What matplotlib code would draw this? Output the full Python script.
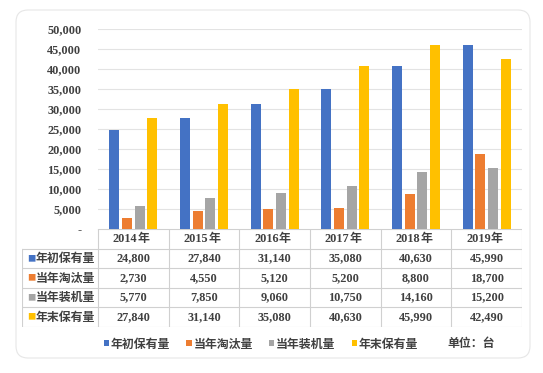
import numpy as np, matplotlib; matplotlib.use("Agg")
import matplotlib.pyplot as plt
from matplotlib.patches import FancyBboxPatch, Patch

years = ['2014', '2015', '2016', '2017', '2018', '2019']
series = ['年初保有量', '当年淘汰量', '当年装机量', '年末保有量']
begin_stock = [24800, 27840, 31140, 35080, 40630, 45990]
retired = [2730, 4550, 5120, 5200, 8800, 18700]
installed = [5770, 7850, 9060, 10750, 14160, 15200]
end_stock = [27840, 31140, 35080, 40630, 45990, 42490]
yticks = [0, 5000, 10000, 15000, 20000, 25000, 30000, 35000, 40000, 45000, 50000]
unit_note = '单位：台'

colors = ['#4472C4', '#ED7D31', '#A5A5A5', '#FFC000']
vals = [begin_stock, retired, installed, end_stock]
CJK = ['Noto Sans CJK SC', 'DejaVu Sans']
NUM = 'Liberation Serif'
TXT = '#404040'
W, H = 543, 373

fig = plt.figure(figsize=(W/100, H/100), dpi=100)
fig.patch.set_facecolor('white')
fig.patches.append(FancyBboxPatch((16, H-358), 514, 348, boxstyle='round,pad=0,rounding_size=12',
                                  transform=None, fc='none', ec='#E6E6E6', lw=0.8, zorder=-5))

def fx(px): return px/W
def fy(py): return 1-py/H

# bars
ax = fig.add_axes([fx(98), fy(229), fx(424), 200/H])
ax.patch.set_alpha(0)
x = np.arange(len(years))
offs = [-0.27, -0.09, 0.09, 0.27]
for v, c, o in zip(vals, colors, offs):
    ax.bar(x+o, v, width=0.14, color=c, zorder=3)
ax.set_xlim(-0.5, 5.5); ax.set_ylim(0, 50000)
ax.set_yticks(yticks)
ax.set_yticklabels(['-' if t == 0 else f"{t:,}" for t in yticks], fontfamily=NUM, fontweight='bold', fontsize=8.8, color=TXT)
ax.set_xticks([])
ax.tick_params(axis='y', length=0, pad=12)
ax.grid(axis='y', color='#E3E3E3', lw=0.8, zorder=0)
for s in ax.spines.values(): s.set_visible(False)

# table
tx = fig.add_axes([fx(22), fy(327), fx(500), 98/H])
tx.patch.set_alpha(0)
x0 = -0.5 - 76/70.67
tx.set_xlim(x0, 5.5); tx.set_ylim(0, 5)
tx.axis('off')
lc = '#D0D0D0'
for yy in [0, 1, 2, 3, 4]:
    tx.plot([x0, 5.5], [yy, yy], color=lc, lw=0.8)
tx.plot([-0.5, 5.5], [5, 5], color=lc, lw=0.8)
tx.plot([x0, x0], [0, 4], color=lc, lw=0.8)
for xx in np.arange(-0.5, 6.0, 1.0):
    tx.plot([xx, xx], [0, 5], color=lc, lw=0.8)
for j, yr in enumerate(years):
    tx.text(j+0.06, 4.5, yr, ha='right', va='center', fontfamily=NUM, fontweight='bold', fontsize=8.8, color=TXT)
    tx.text(j+0.06, 4.5, '年', ha='left', va='center', fontfamily=CJK, fontweight='bold', fontsize=8.6, color=TXT)
for i, (nm, v, c) in enumerate(zip(series, vals, colors)):
    yy = 3.5 - i
    tx.text(x0+0.08, yy, '■', ha='left', va='center', fontsize=6, color=c, fontfamily=CJK)
    tx.text(x0+0.19, yy, nm, ha='left', va='center', fontsize=8.6, fontweight='bold', color=TXT, fontfamily=CJK)
    for j in range(len(years)):
        tx.text(j, yy, f"{v[j]:,}", ha='center', va='center', fontfamily=NUM, fontweight='bold', fontsize=8.8, color=TXT)

# legend
handles = [Patch(fc=c, ec='none') for c in colors]
fig.legend(handles, series, loc='center', bbox_to_anchor=(fx(261), fy(344)), ncol=4, frameon=False,
           prop={'family': CJK, 'weight': 'bold', 'size': 8.6}, labelcolor=TXT,
           handlelength=0.45, handleheight=0.45, handletextpad=0.15, columnspacing=1.35)
fig.text(fx(447), fy(344), unit_note, ha='left', va='center', fontfamily=CJK, fontweight='bold', fontsize=8.6, color=TXT)

fig.savefig('out.png', dpi=100)
